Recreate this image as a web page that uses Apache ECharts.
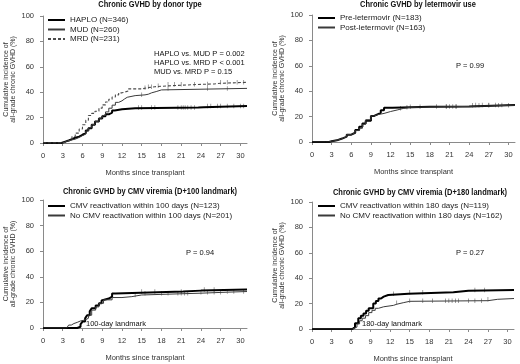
<!DOCTYPE html>
<html>
<head>
<meta charset="utf-8">
<script src="https://cdn.jsdelivr.net/npm/echarts@6/dist/echarts.min.js"></script>
<style>
  html, body { margin: 0; padding: 0; background: #fff; }
  #chart { width: 520px; height: 364px; }
</style>
</head>
<body>
<div id="chart"></div>
<script>
// months since transplant, cumulative incidence (%)
var HAPLO = [[0,0],[2.4,0],[2.8,0.6],[3,1.3],[3.5,2.2],[4,3.2],[4.5,4.2],[4.9,5],[5.5,6.5],[6,7.8],[6.5,9.8],[6.9,11.7],[7.4,14.3],[7.9,17],[8.5,19.3],[9,21],[9.5,22.6],[10,24],[10.5,25.6],[10.9,26.6],[12,27.4],[14,28],[23.6,28.2],[24.4,29.2],[31,29.4]];
var MUD = [[0,0],[2.5,0],[3,1.2],[3.5,2],[4,3],[4.9,4.4],[5.5,5.8],[6,7],[6.5,9.5],[6.9,12],[7.4,14.5],[7.9,17],[8.5,19.5],[9,21.7],[9.5,24.5],[10,27.4],[10.5,29.8],[11,32],[11.5,33.2],[12,34.7],[12.4,36],[12.8,37.3],[14,37.9],[15.5,38.4],[16,39.5],[16.5,40.5],[17.2,41.8],[18,43],[31,43.3]];
var MRD = [[0,0],[3,0.5],[3.5,1.5],[3.9,2.6],[4.4,5],[4.9,7.8],[5.5,11],[6,14.4],[6.5,18],[6.9,21.7],[7.4,23.3],[7.9,25],[8.5,27.5],[9,30],[9.5,32.3],[10,34.5],[10.5,36.2],[11,37.9],[11.5,39.5],[12,41],[13,42.6],[15,43.6],[16,44.3],[17,45],[19,46.2],[24,46.5],[26,47],[27,47.8],[31,48.3]];

var PRE = [[0,0],[2.1,0],[2.6,0.6],[3,1.3],[3.8,2.7],[4.6,4.2],[5.3,5.8],[6,7.3],[6.6,9.5],[7.2,12],[7.7,14.5],[8.2,16.8],[9,20.5],[9.5,21.8],[10,23],[10.5,25],[11,27],[12.3,27.8],[18,28],[24,29.2],[31,29.2]];
var POST = [[0,0],[2.1,0],[2.6,0.6],[3,1.3],[3.8,2.7],[4.6,4.2],[5.3,5.8],[6,7.3],[6.6,9],[7.2,10.8],[7.7,14],[8.2,17.5],[9,20.5],[9.5,21.5],[10,22.5],[11,24],[12,25.2],[13,26.5],[14,27.3],[15,27.8],[20,28],[24,29],[31,29.1]];

var CMV100 = [[0,0],[4.6,0],[5.2,1],[5.7,2.9],[6,5],[6.4,7.5],[6.7,10],[7.1,13],[7.4,15.4],[8,17.5],[8.5,19.3],[8.9,21.5],[9.2,23],[10,24.5],[10.5,27],[11,28.5],[21.3,29.2],[24,30],[31,30]];
var NOCMV100 = [[0,0],[3.2,0],[3.6,1.2],[3.9,2.3],[4.3,3.5],[4.7,4.4],[5.2,5.5],[5.7,6.3],[6.4,7.6],[6.9,10],[7.4,14],[8,16.5],[8.5,19.3],[9.2,22],[10.5,23.8],[12,24.5],[13.5,25.8],[15,27.2],[24,28],[28,28.5],[31,28.5]];

var CMV180 = [[0,0],[6.2,0],[6.4,1.5],[6.6,4.5],[7.1,8.4],[7.5,10.5],[7.9,12.3],[8.3,14.3],[8.7,16.3],[9.4,20],[9.8,22],[10.2,24],[10.6,25.5],[11,26.8],[11.7,27.8],[14.8,28.9],[21.7,30.2],[24,30.8],[31,30.8]];
var NOCMV180 = [[0,0],[6.2,0],[6.5,1.5],[6.9,4],[7.3,6.5],[7.7,8.5],[8.2,10.5],[8.7,12.9],[9.2,14.7],[9.7,16.3],[10.2,17.5],[11,18.6],[12.5,19.5],[13,20.7],[14,21.8],[15,22.3],[27,23.4],[28.5,24],[31,24]];

// censoring times (months)
var HAPLO_C = [14.5,15,16.5,17,20.5,21,21.3,21.6,22,22.5,23,25,25.5,26.5,27,28,29,30,30.5];
var MUD_C = [15,19,25,28];
var MRD_C = [15.5,16,16.5,17.5,19,20,21,23,25,27,28,29.5,30.5];
var PRE_C = [15,16.5,19,20.5,21,22,25,26,27,28,29];
var POST_C = [13.5,14.5,20.5,21.5,22,24.5,25.5,27,28.5,30];
var CMV100_C = [15,17,21,24.5,26];
var NOCMV100_C = [14,15.5,18,19,20.5,21,21.5,22,24,25,26,27,28,29,30.5];
var CMV180_C = [12.5,15,17,25,26.5];
var NOCMV180_C = [13,15,17,18.5,20.5,21,21.5,22,22.5,24,25,26,27];

var XTICKS = [0,3,6,9,12,15,18,21,24,27,30];

var TITLES = ['Chronic GVHD by donor type', 'Chronic GVHD by letermovir use',
  'Chronic GVHD by CMV viremia (D+100 landmark)', 'Chronic GVHD by CMV viremia (D+180 landmark)'];

var FONT = '"Liberation Sans", Arial, sans-serif';
var AX = '#8a8a8a';

function stepAt(curve, t) {
  var v = 0;
  for (var i = 0; i < curve.length; i++) { if (curve[i][0] <= t) v = curve[i][1]; }
  return v;
}

var grids = [
  {left: 43, top: 16, width: 204, height: 127},
  {left: 312, top: 15, width: 203, height: 127},
  {left: 43, top: 200, width: 204, height: 128},
  {left: 312, top: 202, width: 202, height: 127}
];

var xAxes = [], yAxes = [];
grids.forEach(function (g, i) {
  xAxes.push({
    gridIndex: i, type: 'value', min: 0, max: 31,
    name: 'Months since transplant', nameLocation: 'middle', nameGap: 26,
    nameTextStyle: {fontFamily: FONT, fontSize: 7.5, color: '#333'},
    axisLine: {lineStyle: {color: AX, width: 1}},
    axisTick: {length: 3, lineStyle: {color: AX}, customValues: XTICKS},
    axisLabel: {fontFamily: FONT, fontSize: 7.5, color: '#333', margin: 9, customValues: XTICKS},
    splitLine: {show: false}
  });
  yAxes.push({
    gridIndex: i, type: 'value', min: 0, max: 100, interval: 20,
    name: 'Cumulative incidence of\nall-grade chronic GVHD (%)', nameLocation: 'middle', nameGap: 26,
    nameRotate: 90,
    nameTextStyle: {fontFamily: FONT, fontSize: 7, lineHeight: 7, color: '#333'},
    axisLine: {show: true, lineStyle: {color: AX, width: 1}},
    axisTick: {show: true, length: 3, lineStyle: {color: AX}},
    axisLabel: {fontFamily: FONT, fontSize: 7.5, color: '#333', margin: 9},
    splitLine: {show: false}
  });
});

var styles = {
  thick: {color: '#000', width: 2, type: 'solid'},
  thin: {color: '#3a3a3a', width: 1, type: 'solid'},
  dash: {color: '#4a4a4a', width: 1.1, type: [3, 2]}
};

var series = [];
function addCurve(name, idx, curve, cens, st) {
  var s = styles[st];
  series.push({
    name: name, type: 'line', step: 'end', xAxisIndex: idx, yAxisIndex: idx,
    data: curve, symbol: 'none', silent: true, animation: false,
    lineStyle: {color: s.color, width: s.width, type: s.type},
    itemStyle: {color: s.color}
  });
  series.push({
    type: 'scatter', xAxisIndex: idx, yAxisIndex: idx, silent: true, animation: false,
    symbol: 'rect', symbolSize: [0.7, 4.5],
    itemStyle: {color: '#555'},
    data: cens.map(function (t) { return [t, stepAt(curve, t)]; })
  });
}
addCurve('HAPLO (N=346)', 0, HAPLO, HAPLO_C, 'thick');
addCurve('MUD (N=260)', 0, MUD, MUD_C, 'thin');
addCurve('MRD (N=231)', 0, MRD, MRD_C, 'dash');
addCurve('Pre-letermovir (N=183)', 1, PRE, PRE_C, 'thick');
addCurve('Post-letermovir (N=163)', 1, POST, POST_C, 'thin');
addCurve('CMV reactivation within 100 days (N=123)', 2, CMV100, CMV100_C, 'thick');
addCurve('No CMV reactivation within 100 days (N=201)', 2, NOCMV100, NOCMV100_C, 'thin');
addCurve('CMV reactivation within 180 days (N=119)', 3, CMV180, CMV180_C, 'thick');
addCurve('No CMV reactivation within 180 days (N=162)', 3, NOCMV180, NOCMV180_C, 'thin');

function legend(left, top, names) {
  return {
    left: left, top: top, orient: 'vertical', itemWidth: 17, itemHeight: 8, itemGap: 1.5,
    selectedMode: false, data: names,
    itemStyle: {opacity: 0},
    textStyle: {fontFamily: FONT, fontSize: 8, color: '#222'},
    padding: 0
  };
}

function txt(x, y, s, size, bold, align) {
  return {
    type: 'text', x: x, y: y, silent: true,
    scaleX: bold ? 0.83 : 1,
    style: {text: s, fill: '#111', fontFamily: FONT, fontSize: size,
      fontWeight: bold ? 'bold' : 'normal', textAlign: align || 'left', textVerticalAlign: 'middle'}
  };
}

var myChart = echarts.init(document.getElementById('chart'), null, {renderer: 'canvas'});
var option = {
  backgroundColor: '#fff',
  animation: false,
  grid: grids,
  xAxis: xAxes,
  yAxis: yAxes,
  legend: [
    legend(47, 16, ['HAPLO (N=346)', 'MUD (N=260)', 'MRD (N=231)']),
    legend(317, 14, ['Pre-letermovir (N=183)', 'Post-letermovir (N=163)']),
    legend(47, 202, ['CMV reactivation within 100 days (N=123)', 'No CMV reactivation within 100 days (N=201)']),
    legend(317, 202, ['CMV reactivation within 180 days (N=119)', 'No CMV reactivation within 180 days (N=162)'])
  ],
  series: series,
  graphic: [
    txt(150, 5, TITLES[0], 9, true, 'center'),
    txt(418, 5, TITLES[1], 9, true, 'center'),
    txt(150, 192, TITLES[2], 9, true, 'center'),
    txt(420, 193, TITLES[3], 9, true, 'center'),
    txt(154, 54, 'HAPLO vs. MUD P = 0.002', 7.5),
    txt(154, 63, 'HAPLO vs. MRD P < 0.001', 7.5),
    txt(154, 72, 'MUD vs. MRD P = 0.15', 7.5),
    txt(456, 66, 'P = 0.99', 7.5),
    txt(186, 253, 'P = 0.94', 7.5),
    txt(456, 253, 'P = 0.27', 7.5),
    txt(86, 324, '100-day landmark', 7.5),
    txt(362, 324, '180-day landmark', 7.5)
  ]
};
myChart.setOption(option);
</script>
</body>
</html>
